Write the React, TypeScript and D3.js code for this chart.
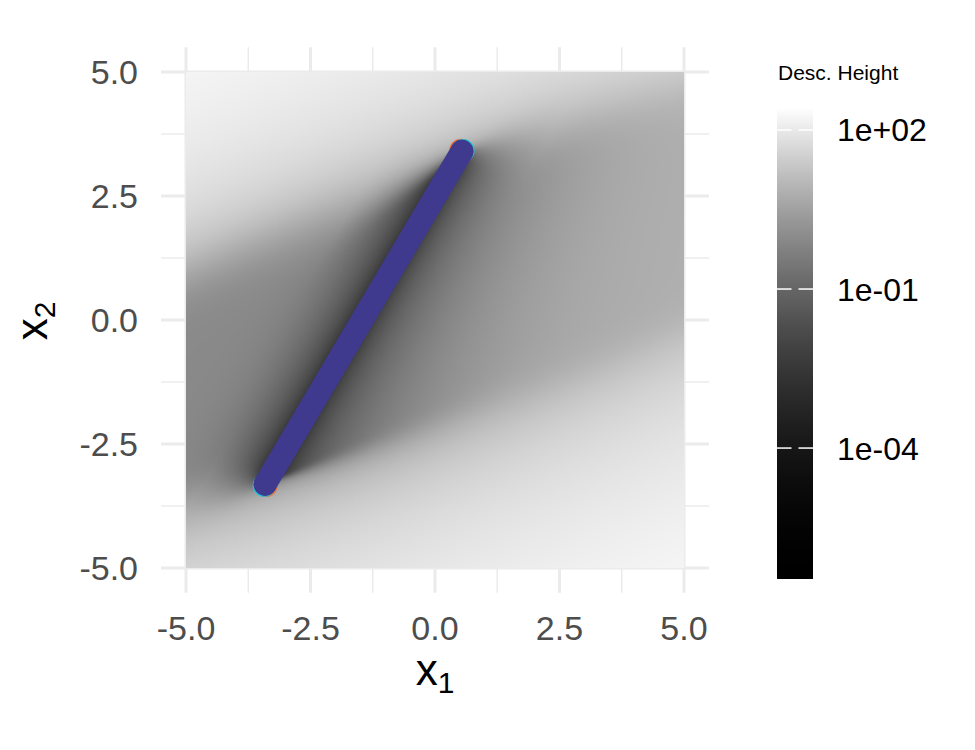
import React, { useMemo } from "react";
import * as d3 from "d3";

const W = 975;
const H = 750;
const FONT = "'Liberation Sans', Arial, Helvetica, sans-serif";

// Solutions on the Pareto segment; the last run covers the whole segment
const RUN_NAMES = ["run A", "run B", "run C"];
const RUN_X1 = [
  [0.52, -3.39],
  [0.564, -3.43],
  [0.54, -3.41],
];
const RUN_X2 = [
  [3.424, -3.338],
  [3.416, -3.334],
  [3.4, -3.31],
];
const RUN_COLORS = ["#E8743B", "#22C3D6", "#3F3A8E"];

// Axes
const MAJOR_TICKS = [-5, -2.5, 0, 2.5, 5];
const MAJOR_LABELS = ["-5.0", "-2.5", "0.0", "2.5", "5.0"];
const MINOR_TICKS = [-3.75, -1.25, 1.25, 3.75];

// Colour bar (log10 of descent height)
const LEGEND_TICKS = [2, -1, -4];
const LEGEND_LABELS = ["1e+02", "1e-01", "1e-04"];
const LOG_RANGE = [-6.47, 2.415];

// Descent-height surface, parameters
const UPPER_END = [0.54, 3.4];
const LOWER_END = [-3.41, -3.31];
const EDGE_DIR_SLOPE = 0.347;
const UPPER_EDGE = [0.339, -0.0088];
const LOWER_EDGE = [0.297, 0.011];
// [right of path, left of path]
const VALLEY_LOGC = [-1.0, -1.08];
const VALLEY_POWER = [2.45, 2.8];
const VALLEY_FAR = [7.5, 0.9];
const VALLEY_TILT = [0.5, 0];
const UPPER_RISE = [50, 0.9];
const LOWER_RISE = [28, 1.1];
const UPPER_SOFT = [0.12, 0.12];
const LOWER_SOFT = [0.05, 0.15];
const GRID_N = 250;

function heightAt(x: number, y: number): number {
  const [ax, ay] = UPPER_END;
  const [bx, by] = LOWER_END;
  const qx = ax - bx;
  const qy = ay - by;
  const wl = Math.hypot(1, EDGE_DIR_SLOPE);
  const wx = 1 / wl;
  const wy = EDGE_DIR_SLOPE / wl;
  const D = qx * wy - qy * wx;
  const dx = x - bx;
  const dy = y - by;
  const t = (qx * dy - qy * dx) / D;
  const s = Math.max(0, Math.min(1, (dx * wy - dy * wx) / D));
  const side = t >= 0 ? 0 : 1;
  const at = Math.abs(t);
  const near =
    Math.pow(10, VALLEY_LOGC[side] + VALLEY_TILT[side] * (s - 0.4)) * Math.pow(at, VALLEY_POWER[side]);
  const far = VALLEY_FAR[side];
  const vs = near > 0 ? 1 / Math.sqrt(1 / (near * near) + 1 / (far * far)) : 0;
  const soft = (d: number, k: number, cap: number) => {
    const delta = Math.min(cap, Math.max(0.015, k * at));
    const z = d / delta;
    return delta * (z > 30 ? z : Math.log1p(Math.exp(z)));
  };
  const ux = x - ax;
  const dT = y - (ay + UPPER_EDGE[0] * ux + UPPER_EDGE[1] * ux * ux);
  const lx = x - bx;
  const dB = by + LOWER_EDGE[0] * lx + LOWER_EDGE[1] * lx * lx - y;
  const v =
    vs +
    UPPER_RISE[0] * Math.pow(soft(dT, UPPER_SOFT[side], 0.25), UPPER_RISE[1]) +
    LOWER_RISE[0] * Math.pow(soft(dB, LOWER_SOFT[side], 0.25), LOWER_RISE[1]);
  return Math.log10(Math.max(v, 1e-12));
}

function grayOf(L: number): number {
  const p = Math.max(0, Math.min(1, (L - LOG_RANGE[0]) / (LOG_RANGE[1] - LOG_RANGE[0])));
  return Math.round(255 * Math.pow(p, 1.9));
}

export default function App() {
  const x = d3.scaleLinear().domain([-5.5, 5.5]).range([161.1, 708.9]);
  const y = d3.scaleLinear().domain([-5.5, 5.5]).range([592.8, 47.2]);
  const leg = d3.scaleLinear().domain(LOG_RANGE).range([579, 108]);

  const href = useMemo(() => {
    const c = document.createElement("canvas");
    c.width = GRID_N;
    c.height = GRID_N;
    const ctx = c.getContext("2d")!;
    const img = ctx.createImageData(GRID_N, GRID_N);
    const cx = d3.scaleLinear().domain([0, GRID_N]).range([-5, 5]);
    const cy = d3.scaleLinear().domain([0, GRID_N]).range([5, -5]);
    for (let j = 0; j < GRID_N; j++) {
      for (let i = 0; i < GRID_N; i++) {
        const g = grayOf(heightAt(cx(i + 0.5), cy(j + 0.5)));
        const k = (j * GRID_N + i) * 4;
        img.data[k] = g;
        img.data[k + 1] = g;
        img.data[k + 2] = g;
        img.data[k + 3] = 255;
      }
    }
    ctx.putImageData(img, 0, 0);
    return c.toDataURL();
  }, []);

  const line = d3
    .line<[number, number]>()
    .x((d) => x(d[0]))
    .y((d) => y(d[1]));

  const stops = d3.range(0, 101).map((i) => {
    const L = LOG_RANGE[1] - (i / 100) * (LOG_RANGE[1] - LOG_RANGE[0]);
    const g = grayOf(L);
    return { off: i, col: `rgb(${g},${g},${g})` };
  });

  const [xl, xr] = x.range();
  const [yb, yt] = y.range();
  const last = RUN_NAMES.length - 1;

  return (
    <svg
      width={W}
      height={H}
      style={{ position: "absolute", left: 0, top: 0, background: "#fff" }}
      fontFamily={FONT}
    >
      <defs>
        <linearGradient id="cbar" x1="0" y1="0" x2="0" y2="1">
          {stops.map((s) => (
            <stop key={s.off} offset={`${s.off}%`} stopColor={s.col} />
          ))}
        </linearGradient>
      </defs>
      <rect width={W} height={H} fill="#fff" />
      {/* grid */}
      {MINOR_TICKS.map((v) => (
        <g key={"mn" + v}>
          <line x1={x(v)} x2={x(v)} y1={yt} y2={yb} stroke="#EBEBEB" strokeWidth={1.5} />
          <line x1={xl} x2={xr} y1={y(v)} y2={y(v)} stroke="#EBEBEB" strokeWidth={1.5} />
        </g>
      ))}
      {MAJOR_TICKS.map((v) => (
        <g key={"mj" + v}>
          <line x1={x(v)} x2={x(v)} y1={yt} y2={yb} stroke="#EBEBEB" strokeWidth={3} />
          <line x1={xl} x2={xr} y1={y(v)} y2={y(v)} stroke="#EBEBEB" strokeWidth={3} />
        </g>
      ))}
      {/* raster */}
      <image
        href={href}
        x={x(-5)}
        y={y(5)}
        width={x(5) - x(-5)}
        height={y(-5) - y(5)}
        preserveAspectRatio="none"
      />
      {/* solutions */}
      {RUN_NAMES.map((name, i) => {
        const pts: [number, number][] = RUN_X1[i].map((v, k) => [v, RUN_X2[i][k]]);
        return (
          <g key={name}>
            {pts.map((p, k) => (
              <circle key={k} cx={x(p[0])} cy={y(p[1])} r={11.5} fill={RUN_COLORS[i]} />
            ))}
            {i === last && (
              <path
                d={line(pts) || ""}
                stroke={RUN_COLORS[i]}
                strokeWidth={23}
                strokeLinecap="round"
                fill="none"
              />
            )}
          </g>
        );
      })}
      {/* axis tick labels */}
      {MAJOR_TICKS.map((v, i) => (
        <text key={"xt" + v} x={x(v)} y={640} textAnchor="middle" fontSize={34} fill="#4D4D4D">
          {MAJOR_LABELS[i]}
        </text>
      ))}
      {MAJOR_TICKS.map((v, i) => (
        <text key={"yt" + v} x={138} y={y(v) + 12.2} textAnchor="end" fontSize={34} fill="#4D4D4D">
          {MAJOR_LABELS[i]}
        </text>
      ))}
      {/* axis titles */}
      <text x={435} y={685} textAnchor="middle" fontSize={44} fill="#000">
        x<tspan fontSize={30} dy={8}>1</tspan>
      </text>
      <text transform="translate(47,321) rotate(-90)" textAnchor="middle" fontSize={44} fill="#000">
        x<tspan fontSize={30} dy={8}>2</tspan>
      </text>
      {/* legend */}
      <text x={778} y={80} fontSize={21} fill="#000">
        Desc. Height
      </text>
      <rect
        x={777}
        y={leg(LOG_RANGE[1])}
        width={36}
        height={leg(LOG_RANGE[0]) - leg(LOG_RANGE[1])}
        fill="url(#cbar)"
      />
      {LEGEND_TICKS.map((v, i) => (
        <g key={"lt" + v}>
          <line x1={777} x2={791.5} y1={leg(v)} y2={leg(v)} stroke="#fff" strokeWidth={1.5} />
          <line x1={798.5} x2={813} y1={leg(v)} y2={leg(v)} stroke="#fff" strokeWidth={1.5} />
          <text x={837} y={leg(v) + 11.5} fontSize={32} fill="#000">
            {LEGEND_LABELS[i]}
          </text>
        </g>
      ))}
    </svg>
  );
}
